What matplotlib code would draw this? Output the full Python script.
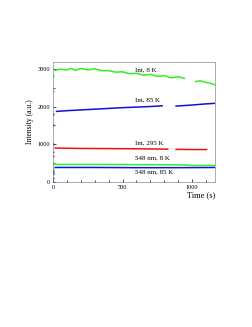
import numpy as np
import matplotlib
matplotlib.use("Agg")
import matplotlib.pyplot as plt
from matplotlib.ticker import MultipleLocator

plt.rcParams['font.family'] = ['Liberation Serif', 'DejaVu Serif']

nan = np.nan

# Int, 8 K
t_int8 = [0, 0, 0, 0, 10, 50, 100, 130, 160, 200, 250, 300, 350, 400, 450, 500, 550,
          600, 650, 700, 750, 800, 850, 900, 950, 990, 1020, 1060, 1100, 1140, 1165]
v_int8 = [500, 1500, 2400, 2800, 2950, 2990, 2970, 3010, 2960, 3010, 2970, 3000, 2950,
          2950, 2910, 2920, 2870, 2880, 2830, 2850, 2800, 2820, 2760, 2790, 2740,
          nan, 2660, 2680, 2640, 2610, 2570]

# Int, 85 K
t_int85 = [0, 0, 0, 0, 0, 20, 100, 200, 300, 400, 500, 600, 700, 790, 840,
           880, 1000, 1100, 1165]
v_int85 = [0, 300, 1000, 1500, 1800, 1870, 1890, 1910, 1930, 1950, 1970, 1985,
           2000, 2020, nan, 2010, 2040, 2070, 2085]

# Int, 295 K
t_int295 = [0, 0, 10, 200, 400, 600, 830, 860, 880, 1000, 1110]
v_int295 = [700, 800, 900, 890, 885, 880, 870, nan, 865, 860, 860]

# 548 nm, 8 K
t_548_8 = [0, 0, 10, 300, 600, 900, 960, 1000, 1165]
v_548_8 = [200, 350, 465, 465, 460, 455, 450, 440, 440]

# 548 nm, 85 K
t_548_85 = [0, 0, 0, 10, 300, 600, 900, 1165]
v_548_85 = [0, 100, 250, 385, 385, 380, 380, 385]

labels = ["Int, 8 K", "Int, 85 K", "Int, 295 K", "548 nm, 8 K", "548 nm, 85 K"]
label_x = [593, 593, 593, 593, 593]
label_y = [2970, 2175, 1035, 637, 265]

fig = plt.figure(figsize=(2.53, 3.27), dpi=100)
ax = fig.add_axes([53 / 253, 1 - 182 / 327, 162 / 253, 120 / 327])

series = [(t_int8, v_int8, '#33ee22'), (t_int85, v_int85, '#1111dd'),
          (t_int295, v_int295, '#ee1111'), (t_548_8, v_548_8, '#33ee22'),
          (t_548_85, v_548_85, '#1111dd')]
for t, v, c in series:
    t = np.array(t, float)
    v = np.array(v, float)
    start = t == 0
    ax.plot(t[~start], v[~start], color=c, lw=1.1, solid_capstyle='butt')
    ax.plot(t[start], v[start], 'o', color=c, ms=1.6, mew=0)

for lab, x, y in zip(labels, label_x, label_y):
    ax.text(x, y, lab, fontsize=5, va='center', ha='left')

ax.set_xlim(0, 1165)
ax.set_ylim(0, 3180)
ax.xaxis.set_major_locator(MultipleLocator(500))
ax.xaxis.set_minor_locator(MultipleLocator(100))
ax.yaxis.set_major_locator(MultipleLocator(1000))
ax.yaxis.set_minor_locator(MultipleLocator(500))
ax.tick_params(which='both', direction='in', labelsize=4.5, pad=2, width=0.5)
ax.tick_params(which='major', length=2)
ax.tick_params(which='minor', length=1.2)
for s in ax.spines.values():
    s.set_linewidth(0.5)
    s.set_color('#888888')

ax.set_ylabel("Intensity (a.u.)", fontsize=5.5, labelpad=3)
ax.text(1.0, -0.08, "Time (s)", transform=ax.transAxes, ha='right', va='top', fontsize=6)

fig.savefig("out.png", dpi=100)
